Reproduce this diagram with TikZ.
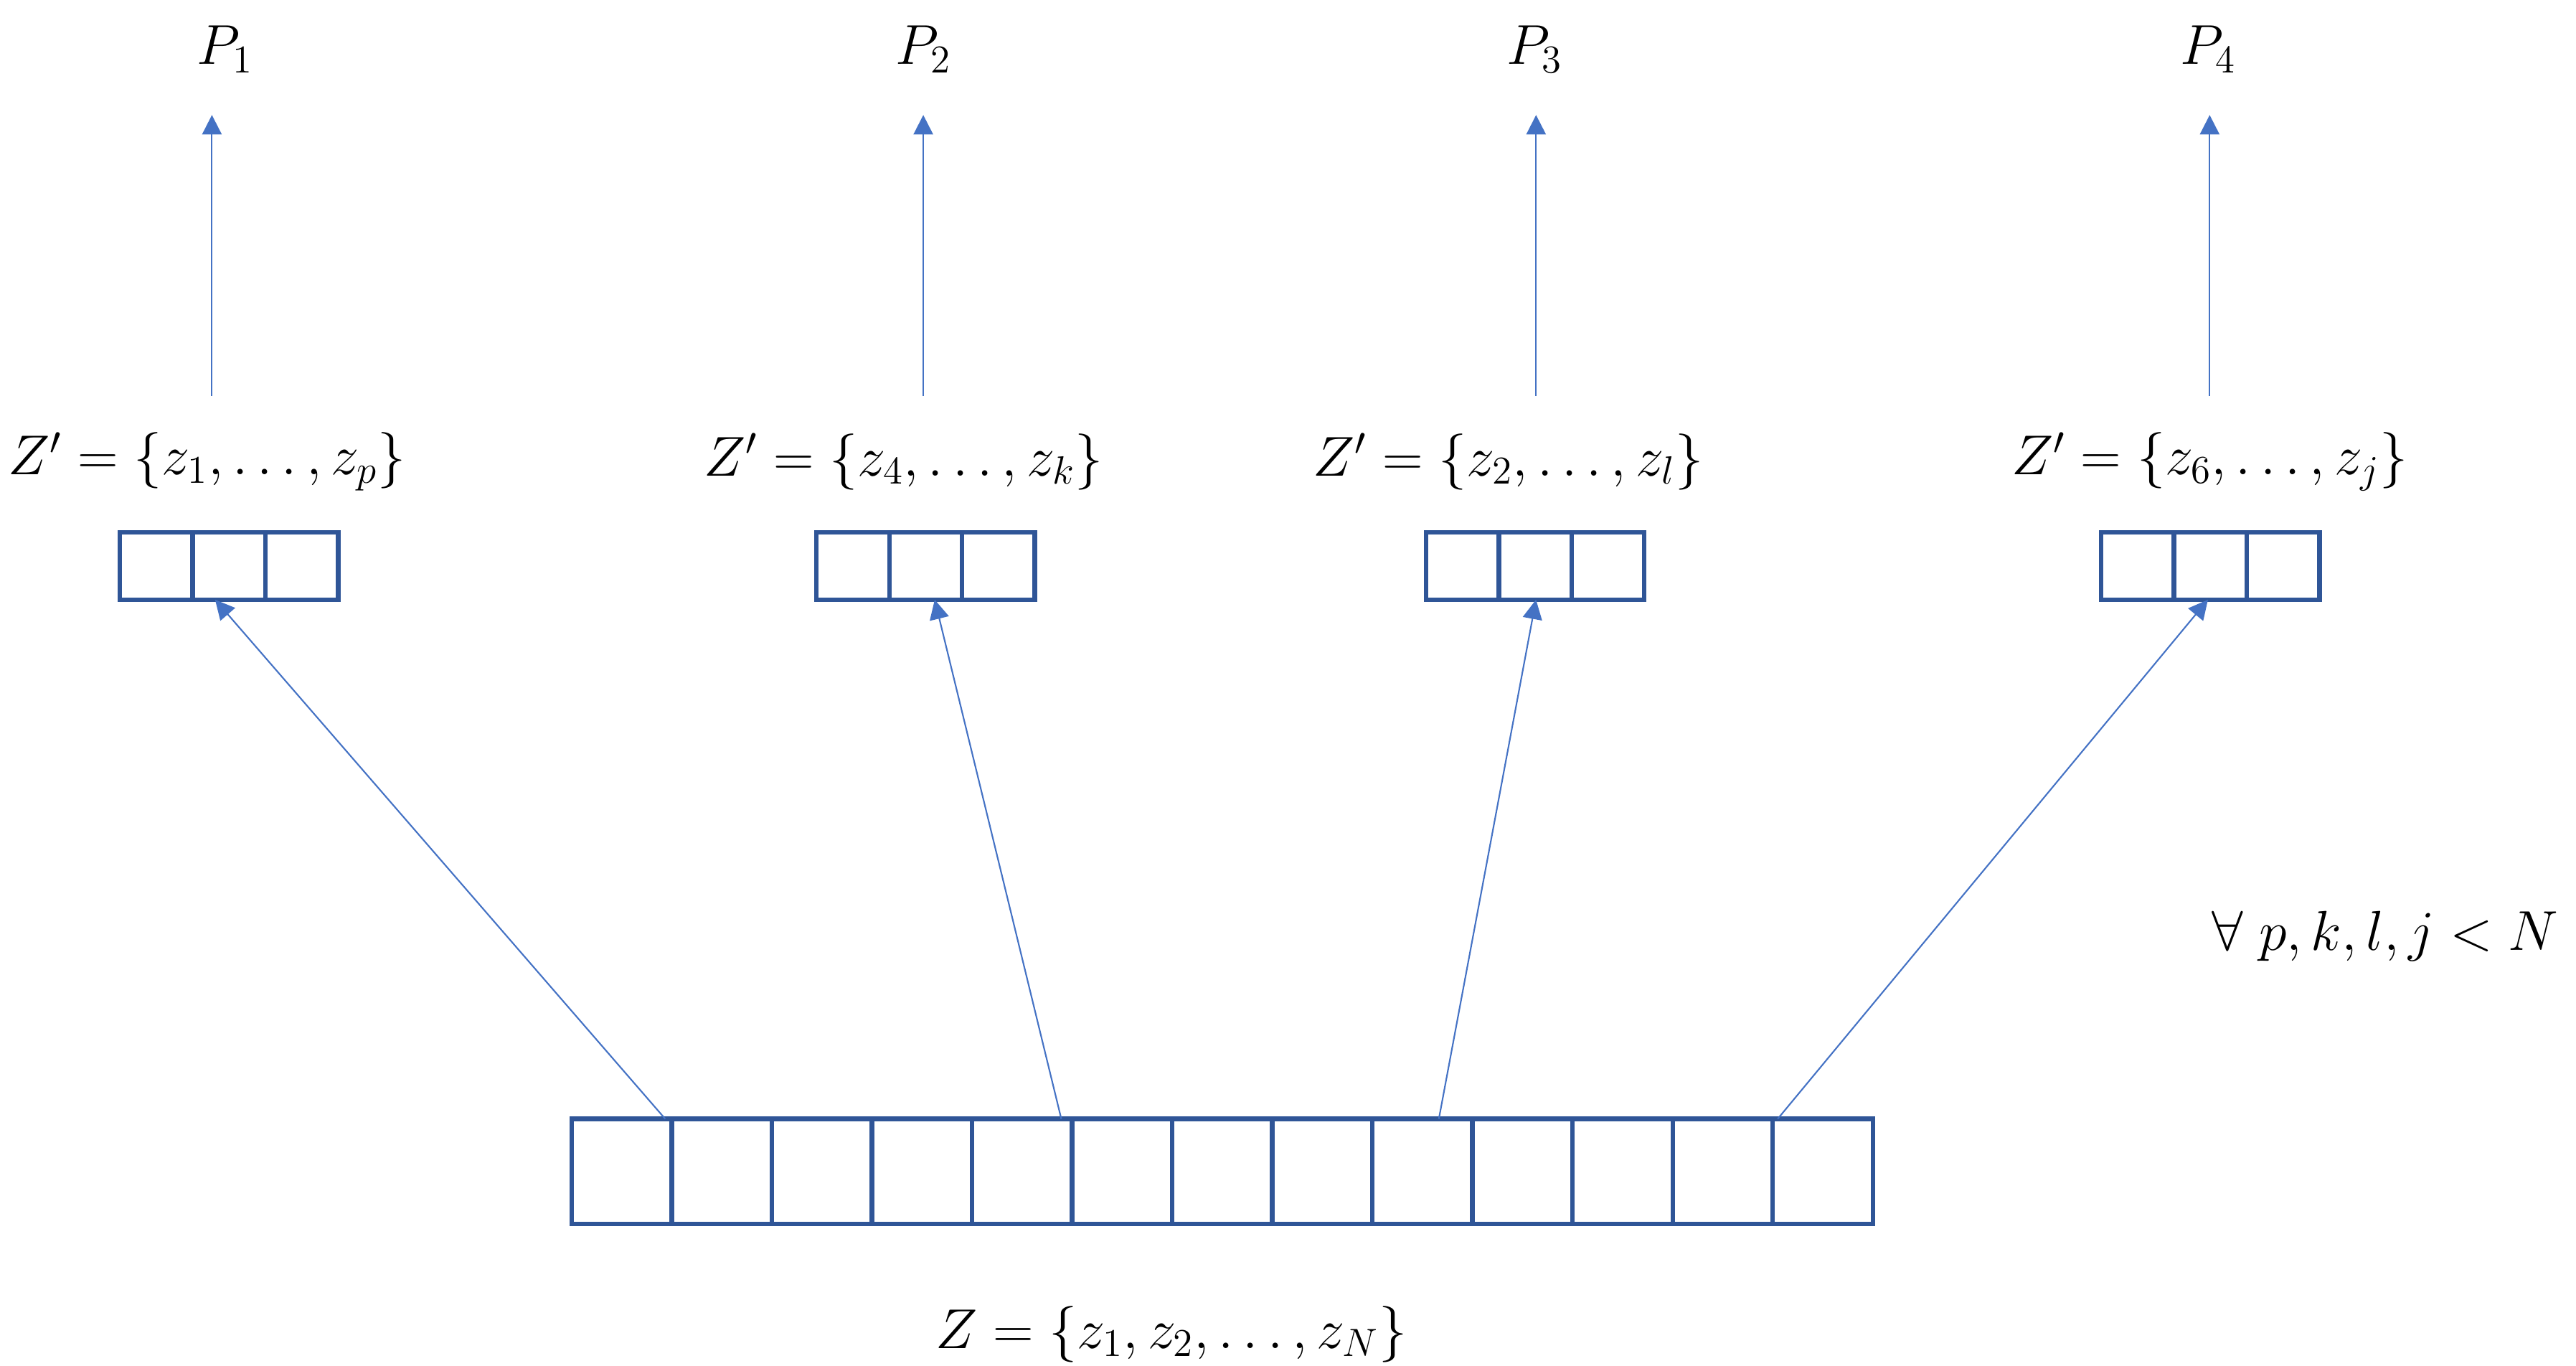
\RequirePackage{fix-cm}
\documentclass[tikz,border=0pt]{standalone}
\usetikzlibrary{arrows.meta,calc}
\definecolor{boxblue}{HTML}{2F5597}
\definecolor{arrblue}{HTML}{4472C4}
\begin{document}
\begin{tikzpicture}[x=0.0229cm,y=-0.0229cm,
  lbl/.style={font=\fontsize{22.3}{27}\selectfont, inner sep=0pt},
  scell/.style={draw=boxblue,line width=1.8pt,minimum width=1.0145cm,minimum height=0.939cm,inner sep=0pt,outer sep=0pt},
  bcell/.style={draw=boxblue,line width=1.8pt,minimum width=1.395cm,minimum height=1.466cm,inner sep=0pt,outer sep=0pt},
  arr/.style={draw=arrblue,line width=0.6pt,-{Triangle[width=0.27cm,length=0.27cm]}}]
\useasboundingbox (0,0) rectangle (1568,831);

% big array
\foreach \i in {1,...,13}
  \node[bcell] (b\i) at ({348+60.92*(\i-0.5)},713) {};

% small arrays
\foreach \b/\l in {1/73,2/497,3/868,4/1279}
  \foreach \c/\k in {a/0,b/1,c/2}
    \node[scell] (s\b\c) at ({\l+44.3*(\k+0.5)},344.5) {};

% labels
\node[lbl] (p1) at (137,30) {$P_1$};
\node[lbl] (p2) at (562,30) {$P_2$};
\node[lbl] (p3) at (934,30) {$P_3$};
\node[lbl] (p4) at (1344,30) {$P_4$};

\node[lbl] (zl1) at (126,281) {$Z' = \{z_1, \ldots, z_p\}$};
\node[lbl] (zl2) at (550,281) {$Z' = \{z_4, \ldots, z_k\}$};
\node[lbl] (zl3) at (918,281) {$Z' = \{z_2, \ldots, z_l\}$};
\node[lbl] (zl4) at (1345,281) {$Z' = \{z_6, \ldots, z_j\}$};

\node[lbl] (forall) at (1452,570) {$\forall\; p, k, l, j < N$};
\node[lbl] (zall) at (713,812) {$Z = \{z_1, z_2, \ldots, z_N\}$};

% arrows from big array to small arrays
\draw[arr] ($(b2.north west)+(-4,0)$) -- ($(s1b.south)+(-8.5,0)$);
\draw[arr] ($(b6.north west)+(-6.6,0)$) -- ($(s2b.south)+(5.5,0)$);
\draw[arr] ($(b9.north)+(10,0)$) -- ($(s3b.south)+(0.5,0)$);
\draw[arr] ($(b13.north west)+(3,0)$) -- ($(s4b.south)+(-1.5,0)$);

% upward arrows to P
\foreach \n/\x in {1/129,2/562,3/935,4/1345} {
  \coordinate (u\n) at (\x,241);
  \coordinate (v\n) at (\x,70);
  \draw[arr] (u\n) -- (v\n);
}
\end{tikzpicture}
\end{document}
